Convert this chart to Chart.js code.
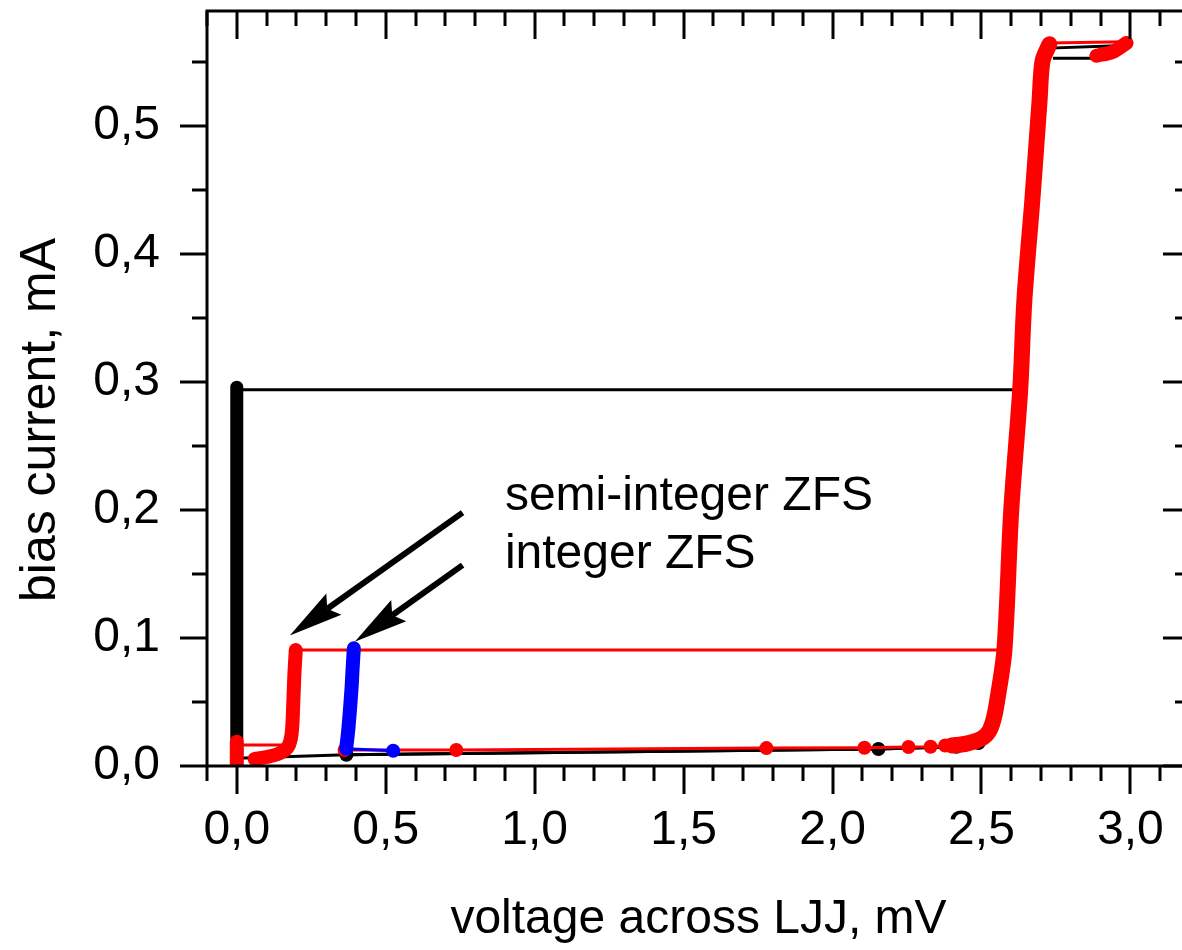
<!DOCTYPE html>
<html>
<head>
<meta charset="utf-8">
<script src="https://cdn.jsdelivr.net/npm/chart.js@4/dist/chart.umd.min.js"></script>
<style>
html, body { margin: 0; padding: 0; background: #fff; overflow: hidden; }
#wrap { width: 1200px; height: 950px; }
</style>
</head>
<body>
<div id="wrap"><canvas id="iv" width="1200" height="950"></canvas></div>
<script>
// I-V curve of the LJJ, voltage in mV, current in mA
const xTicks = [0, 0.5, 1, 1.5, 2, 2.5, 3];
const yTicks = [0, 0.1, 0.2, 0.3, 0.4, 0.5];

// black sweep: zero-voltage state, jump at Ic, quasiparticle branch, return
const blackRiseV = [0, 0];
const blackRiseI = [0.004, 0.296];
const blackJumpV = [0, 2.61];
const blackJumpI = [0.294, 0.294];
const blackBranchV = [2.50, 2.537, 2.552, 2.577, 2.63, 2.67, 2.70, 2.728, 2.98, 2.90, 2.74];
const blackBranchI = [0.019, 0.036, 0.05, 0.0906, 0.294, 0.443, 0.53, 0.561, 0.563, 0.553, 0.553];
const blackReturnV = [0, 0.368, 2.154, 2.416, 2.50];
const blackReturnI = [0.006, 0.0088, 0.0133, 0.015, 0.019];
const blackDotsV = [0.368, 2.154, 2.416, 2.49];
const blackDotsI = [0.0088, 0.0133, 0.015, 0.018];

// red sweep: semi-integer ZFS
const redZeroV = [0, 0];
const redZeroI = [0.0, 0.019];
const redStepV = [0, 0.178];
const redStepI = [0.0165, 0.0165];
const redZfsV = [0.06, 0.10, 0.144, 0.172, 0.184, 0.189, 0.193, 0.198];
const redZfsI = [0.0055, 0.007, 0.010, 0.015, 0.025, 0.045, 0.07, 0.0906];
const redJumpV = [0.198, 2.56];
const redJumpI = [0.0906, 0.0906];
const redBranchV = [2.40, 2.45, 2.50, 2.525, 2.540, 2.552, 2.577, 2.60, 2.63, 2.644, 2.671, 2.695, 2.705, 2.728];
const redBranchI = [0.016, 0.0175, 0.0215, 0.027, 0.036, 0.05, 0.0906, 0.2, 0.294, 0.364, 0.443, 0.52, 0.551, 0.564];
const redTopV = [2.728, 2.987];
const redTopI = [0.565, 0.566];
const redBlobV = [2.886, 2.94, 2.987];
const redBlobI = [0.555, 0.558, 0.565];
const redReturnV = [0.362, 0.737, 1.778, 2.107, 2.255, 2.329, 2.378, 2.40];
const redReturnI = [0.0125, 0.0125, 0.014, 0.0143, 0.0148, 0.015, 0.016, 0.016];

// blue sweep: integer ZFS
const blueZfsV = [0.368, 0.375, 0.385, 0.389, 0.393];
const blueZfsI = [0.0151, 0.03, 0.06, 0.077, 0.092];
const blueTailV = [0.368, 0.525];
const blueTailI = [0.0135, 0.0119];

// annotation anchors (data units)
const notes = [
    {text: 'semi-integer ZFS', v: 0.9, i: 0.2, fromV: 0.758, fromI: 0.198, toV: 0.178, toI: 0.102},
    {text: 'integer ZFS', v: 0.9, i: 0.155, fromV: 0.758, fromI: 0.157, toV: 0.396, toI: 0.097}
];
const yTitle = 'bias current, mA';

const FONT = '"Liberation Sans", Arial, sans-serif';
const fmt = v => v.toFixed(1).replace('.', ',');

function pts(xs, ys) {
    return xs.map((x, k) => ({x: x, y: ys[k]}));
}

function thick(xs, ys, color, order, w) {
    return {data: pts(xs, ys), showLine: true, borderColor: color, backgroundColor: color, tension: 0.3,
        borderWidth: w || 14, borderCapStyle: 'round', borderJoinStyle: 'round', pointRadius: 0, order: order};
}

function thin(xs, ys, color, order) {
    return {data: pts(xs, ys), showLine: true, borderColor: color, backgroundColor: color,
        borderWidth: 3, pointRadius: 0, order: order};
}

function dots(xs, ys, color, order) {
    return {data: pts(xs, ys), showLine: true, borderColor: color, backgroundColor: color,
        borderWidth: 3, pointRadius: 7, pointBorderWidth: 0, order: order};
}

// frame with inward ticks on top/right, outward ticks on bottom/left
const framePlugin = {
    id: 'frame',
    afterDraw(chart) {
        const ctx = chart.ctx;
        const a = chart.chartArea;
        const xs = chart.scales.x, ys = chart.scales.y;
        ctx.save();
        ctx.strokeStyle = '#000';
        ctx.lineWidth = 3;
        ctx.beginPath();
        ctx.moveTo(a.left, a.bottom); ctx.lineTo(a.right, a.bottom);
        ctx.moveTo(a.left, a.bottom); ctx.lineTo(a.left, a.top);
        ctx.lineTo(a.right, a.top); ctx.lineTo(a.right, a.bottom);
        ctx.stroke();
        ctx.beginPath();
        for (let k = -1; k <= 32; k++) {
            const px = Math.round(xs.getPixelForValue(k / 10));
            const len = k % 5 === 0 ? 28 : 15;
            ctx.moveTo(px, a.bottom); ctx.lineTo(px, a.bottom + len);
            ctx.moveTo(px, a.top); ctx.lineTo(px, a.top + len);
        }
        for (let k = 0; k <= 11; k++) {
            const py = Math.round(ys.getPixelForValue(k * 0.05));
            const len = k % 2 === 0 ? 27 : 15;
            ctx.moveTo(a.left, py); ctx.lineTo(a.left - len, py);
            ctx.moveTo(a.right, py); ctx.lineTo(a.right - len, py);
        }
        ctx.stroke();

        // rotated y title, sits a little below the middle of the axis
        ctx.fillStyle = '#000';
        ctx.font = '50px ' + FONT;
        ctx.textAlign = 'center';
        ctx.textBaseline = 'alphabetic';
        ctx.translate(55, 420);
        ctx.rotate(-Math.PI / 2);
        ctx.fillText(yTitle, 0, 0);
        ctx.restore();
    }
};

const notePlugin = {
    id: 'notes',
    afterDatasetsDraw(chart) {
        const ctx = chart.ctx;
        const xs = chart.scales.x, ys = chart.scales.y;
        ctx.save();
        ctx.fillStyle = '#000';
        ctx.strokeStyle = '#000';
        ctx.font = '48px ' + FONT;
        ctx.textBaseline = 'alphabetic';
        notes.forEach(n => {
            ctx.fillText(n.text, xs.getPixelForValue(n.v), ys.getPixelForValue(n.i));
            const x1 = xs.getPixelForValue(n.fromV), y1 = ys.getPixelForValue(n.fromI);
            const x2 = xs.getPixelForValue(n.toV), y2 = ys.getPixelForValue(n.toI);
            const ang = Math.atan2(y2 - y1, x2 - x1);
            const headLen = 54, headW = 13;
            const bx = x2 - headLen * Math.cos(ang), by = y2 - headLen * Math.sin(ang);
            ctx.lineWidth = 6;
            ctx.beginPath();
            ctx.moveTo(x1, y1);
            ctx.lineTo(bx + 8 * Math.cos(ang), by + 8 * Math.sin(ang));
            ctx.stroke();
            ctx.beginPath();
            ctx.moveTo(x2, y2);
            ctx.lineTo(bx + headW * Math.sin(ang), by - headW * Math.cos(ang));
            ctx.lineTo(bx + 8 * Math.cos(ang), by + 8 * Math.sin(ang));
            ctx.lineTo(bx - headW * Math.sin(ang), by + headW * Math.cos(ang));
            ctx.closePath();
            ctx.fill();
        });
        ctx.restore();
    }
};

new Chart(document.getElementById('iv'), {
    type: 'scatter',
    data: {
        datasets: [
            thick(blackRiseV, blackRiseI, '#000', 5, 13),
            thin(blackJumpV, blackJumpI, '#000', 5),
            thin(blackBranchV, blackBranchI, '#000', 5),
            thin(blackReturnV, blackReturnI, '#000', 5),
            dots(blackDotsV, blackDotsI, '#000', 5),
            thick(redZeroV, redZeroI, '#ff0000', 3),
            thin(redStepV, redStepI, '#ff0000', 3),
            thick(redZfsV, redZfsI, '#ff0000', 3),
            thin(redJumpV, redJumpI, '#ff0000', 3),
            thick(redBranchV, redBranchI, '#ff0000', 3, 16),
            thin(redTopV, redTopI, '#ff0000', 3),
            thick(redBlobV, redBlobI, '#ff0000', 3),
            dots(redReturnV, redReturnI, '#ff0000', 3),
            thick(blueZfsV, blueZfsI, '#0000ff', 1),
            dots(blueTailV, blueTailI, '#0000ff', 1)
        ]
    },
    options: {
        responsive: false,
        animation: false,
        events: [],
        layout: {padding: {top: 11, right: 10, left: 0, bottom: 0}},
        plugins: {legend: {display: false}, tooltip: {enabled: false}},
        scales: {
            x: {
                type: 'linear',
                min: -0.1,
                max: 3.2,
                afterBuildTicks: s => { s.ticks = xTicks.map(v => ({value: v})); },
                afterFit: s => { s.height = 184; s.paddingLeft = 0; s.paddingRight = 0; },
                grid: {display: false},
                border: {display: false},
                ticks: {color: '#000', padding: 28, font: {family: FONT, size: 48}, callback: v => fmt(v)},
                title: {display: true, text: 'voltage across LJJ, mV', color: '#000',
                    font: {family: FONT, size: 48}, padding: {top: 0, bottom: 1}}
            },
            y: {
                type: 'linear',
                min: 0,
                max: 0.59,
                afterBuildTicks: s => { s.ticks = yTicks.map(v => ({value: v})); },
                afterFit: s => { s.width = 207; s.paddingTop = 0; s.paddingBottom = 0; },
                grid: {display: false},
                border: {display: false},
                ticks: {color: '#000', padding: 39, font: {family: FONT, size: 48}, callback: v => fmt(v)},
                title: {display: false}
            }
        }
    },
    plugins: [framePlugin, notePlugin]
});
</script>
</body>
</html>
